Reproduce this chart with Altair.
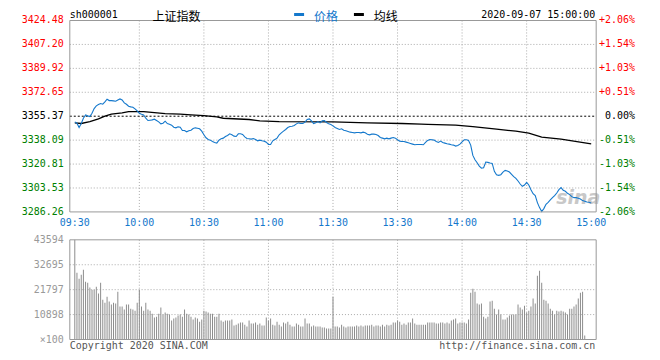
import altair as alt
import pandas as pd

# ---------------- data ----------------
prev_close = 3355.37

# minute-by-minute index price (09:30 .. 11:30, 13:00 .. 15:00), 241 points
price = [
    3351.29, 3350.33, 3347.21, 3350.09, 3353.93, 3356.33, 3355.61, 3355.13, 3357.53, 3360.89,
    3362.81, 3363.77, 3364.49, 3364.01, 3365.69, 3367.61, 3366.65, 3366.65, 3366.41, 3366.17,
    3367.13, 3367.85, 3367.13, 3364.97, 3364.01, 3362.57, 3362.09, 3361.85, 3360.65, 3359.21,
    3357.53, 3356.81, 3356.33, 3353.93, 3352.25, 3352.49, 3352.73, 3353.21, 3352.25, 3351.29,
    3349.85, 3350.33, 3351.77, 3350.09, 3349.61, 3348.89, 3347.45, 3346.97, 3347.69, 3347.45,
    3345.05, 3345.05, 3344.09, 3344.81, 3345.29, 3346.49, 3346.97, 3346.73, 3346.25, 3344.57,
    3341.93, 3339.77, 3338.57, 3338.09, 3337.13, 3336.41, 3335.93, 3338.09, 3339.05, 3339.53,
    3340.73, 3341.45, 3342.65, 3341.93, 3340.97, 3340.73, 3342.65, 3342.65, 3342.17, 3340.49,
    3339.29,
    3339.05, 3338.81, 3339.29, 3338.57, 3337.61, 3338.09, 3337.61, 3337.37, 3336.65, 3334.97,
    3334.97, 3337.61, 3338.57, 3339.53, 3341.93, 3343.37, 3344.57, 3345.77, 3347.21, 3347.93,
    3348.17, 3348.65, 3349.85, 3350.57, 3350.09, 3350.09, 3351.05, 3352.97, 3353.45, 3352.01,
    3350.09, 3350.57, 3351.53, 3350.57, 3352.01, 3352.25, 3350.81, 3349.85, 3349.37, 3348.41,
    3347.21, 3346.49, 3345.77, 3346.25, 3345.29, 3344.81, 3344.33, 3343.85, 3343.61, 3343.37,
    3343.61, 3343.61, 3343.37, 3343.85, 3343.37, 3342.41, 3341.93, 3342.41, 3342.41, 3342.17,
    3341.45, 3340.01, 3339.53, 3339.05, 3339.53, 3339.05, 3339.53, 3340.01, 3339.53, 3338.33,
    3337.37, 3337.13, 3337.13, 3336.65, 3336.17, 3335.69, 3335.21, 3334.73, 3334.97, 3334.97,
    3334.97, 3334.73, 3336.41, 3337.85, 3338.57, 3338.33, 3338.09, 3337.13, 3336.41, 3337.37,
    3336.41, 3335.93, 3335.45, 3335.21, 3334.73, 3334.49, 3333.77, 3334.25, 3335.21, 3336.89,
    3338.33, 3338.33, 3337.85, 3334.49, 3327.05, 3323.93, 3321.77, 3319.37, 3317.93, 3318.17,
    3322.25, 3322.01, 3321.53, 3321.29, 3315.53, 3313.13, 3312.65, 3313.13, 3315.05, 3316.25,
    3315.77, 3315.05, 3313.37, 3311.69, 3310.49, 3308.57, 3306.41, 3304.73, 3305.69, 3307.61,
    3305.69, 3302.33, 3299.45, 3298.01, 3292.97, 3289.37, 3286.49, 3288.65, 3291.77, 3293.21,
    3294.89, 3296.57, 3298.01, 3299.93, 3302.33, 3303.77, 3301.85, 3301.13, 3299.69, 3298.73,
    3297.29, 3296.57, 3296.57, 3296.09, 3295.61, 3294.41, 3293.93, 3293.45, 3293.21, 3292.73,
]

# average price line (均线), read at selected minutes
avg_minute = [0, 3, 7, 11, 14, 17, 22, 25, 32, 42, 49, 54, 60, 66, 69, 81, 86, 95,
              120, 136, 152, 161, 164, 177, 185, 196, 205, 211, 217, 226, 240]
avg_price = [3350.6, 3350.1, 3351.5, 3353.4, 3355.4, 3356.8, 3357.8, 3358.7, 3358.7,
             3357.3, 3356.8, 3356.3, 3355.8, 3354.9, 3353.9, 3353.0, 3352.0, 3351.5,
             3351.3, 3350.6, 3350.1, 3349.6, 3349.4, 3348.9, 3347.9, 3346.0, 3344.6,
             3343.1, 3340.3, 3338.8, 3335.4]

# minute volume (x100 shares)
volume = (
    [43594]
    + [29200, 26600, 28300, 30500, 25300, 24800, 22700, 21800, 21800, 23100, 20100, 24800,
       17400, 16100, 18700, 16600, 15300, 16100, 15700, 20900, 14400, 14400, 13100, 15300,
       15300, 13500, 13100, 12600, 16100]
    + [21800]
    + [14400, 12600, 16100, 13100, 12600, 11300, 9600, 10000, 11300, 14000, 10900, 11800,
       11300, 10900, 8300, 9200, 9600, 10500, 10900, 10000, 13100, 11300, 10900, 10000,
       8700, 9600, 9200, 7800, 8700]
    + [12600]
    + [12200, 11800, 11300, 11300, 10000, 10000, 11300, 8300, 7800, 8300, 8300, 8300, 8700,
       6100, 6500, 7000, 7400, 7400, 6500, 5700, 8300, 7000, 7000, 7400, 6500, 7000, 6100,
       6100, 9600]
    + [8300]
    + [9200, 6500, 6100, 7800, 6500, 5700, 7400, 7000, 7800, 6500, 5700, 5700, 7000, 6500,
       5700, 5700, 9200, 7000, 7000, 5700, 6100, 5700, 5700, 5700, 5200, 5200, 4800, 4800,
       4800]
    + [18700]
    + [5700, 5700, 5200, 6500, 5700, 5200, 5700, 5700, 5700, 5700, 6100, 5700, 6100, 5700,
       6100, 6100, 6100, 6500, 5700, 6100, 6100, 5700, 6500, 5700, 6500, 6100, 6500, 7400,
       7400]
    + [8300]
    + [7800, 6500, 7000, 6500, 7400, 7400, 9200, 7000, 6500, 6500, 6500, 6500, 6500, 7400,
       7400, 7400, 7400, 7000, 7000, 7400, 7400, 7000, 7400, 7000, 8300, 8700, 9200, 7000,
       7400]
    + [7400, 7400, 7000, 8700, 20500, 22200, 20900, 15700, 15300, 15700, 10000, 9200, 10000,
       16600, 17000, 13500, 10900, 13100, 10900, 8700, 8700, 9600, 10500, 10900, 10900,
       10900, 15300, 14000, 13100, 14800, 11800, 12600, 14400, 17900, 15700, 27900, 30100,
       24800, 17400, 17000, 15700, 13500, 12600, 10900, 12600, 12200, 12600, 12200, 11800,
       10900, 13500, 13500, 14400, 15300, 17900, 20500, 20900, 1700, 0, 0, 0]
)

price_ticks = [3424.48, 3407.20, 3389.92, 3372.65, 3355.37, 3338.09, 3320.81, 3303.53, 3286.26]
price_labels = ["3424.48", "3407.20", "3389.92", "3372.65", "3355.37",
                "3338.09", "3320.81", "3303.53", "3286.26"]
pct_labels = ["+2.06%", "+1.54%", "+1.03%", "+0.51%", "0.00%",
              "-0.51%", "-1.03%", "-1.54%", "-2.06%"]

time_ticks = [0, 30, 60, 90, 120, 150, 180, 210, 240]
time_labels = ["09:30", "10:00", "10:30", "11:00", "11:30", "13:30", "14:00", "14:30", "15:00"]

vol_ticks = [43594, 32695, 21797, 10898, 0]
vol_labels = ["43594", "32695", "21797", "10898", "\u00d7100"]

# ---------------- layout / style ----------------
W, H = 528, 320
PRICE_H = 192
VOL_TOP = 220
MONO = "DejaVu Sans Mono"
CJK = "Noto Sans CJK SC"
BLUE = "#1478cc"
GRID = "#aaaaaa"
FRAME = "#999999"
TITLE_Y = -6
CJK_Y = -3.5

x_scale = alt.Scale(domain=[0, 240], nice=False, zero=False)
p_scale = alt.Scale(domain=[price_ticks[-1], price_ticks[0]], range=[PRICE_H, 0], nice=False, zero=False)
v_scale = alt.Scale(domain=[0, vol_ticks[0]], range=[H, VOL_TOP], nice=False, zero=False)

X = alt.X("t:Q", scale=x_scale, axis=None)
YP = alt.Y("p:Q", scale=p_scale, axis=None)
YV = alt.Y("v:Q", scale=v_scale, axis=None)

df_price = pd.DataFrame({"t": list(range(len(price))), "p": price})
df_avg = pd.DataFrame({"t": avg_minute, "p": avg_price})
df_vol = pd.DataFrame({"t": list(range(len(volume))), "v": volume})


def kind(v):
    if abs(v - prev_close) < 1e-6:
        return "flat"
    return "up" if v > prev_close else "down"


df_pt = pd.DataFrame({"p": price_ticks, "label": price_labels, "pct": pct_labels,
                      "kind": [kind(v) for v in price_ticks]})
df_grid_p = df_pt[(df_pt.p != prev_close) & (df_pt.p != price_ticks[0]) & (df_pt.p != price_ticks[-1])]
df_time = pd.DataFrame({"t": time_ticks, "label": time_labels})
df_vgrid = df_time[(df_time.t > 0) & (df_time.t < 240)]
df_vt = pd.DataFrame({"v": vol_ticks, "label": vol_labels})
df_vgrid_h = df_vt[(df_vt.v > 0) & (df_vt.v < vol_ticks[0])]
one = pd.DataFrame({"a": [0]})

color_scale = alt.Scale(domain=["up", "flat", "down"], range=["#ff0000", "#000000", "#008000"])

layers = []

# price panel grid
layers.append(alt.Chart(df_grid_p).mark_rule(color=GRID, strokeDash=[1, 2], strokeWidth=1).encode(
    y=YP, x=alt.value(0), x2=alt.value(W)))
layers.append(alt.Chart(df_vgrid).mark_rule(color=GRID, strokeDash=[1, 2], strokeWidth=1).encode(
    x=X, y=alt.value(0), y2=alt.value(PRICE_H)))
# volume panel grid
layers.append(alt.Chart(df_vgrid_h).mark_rule(color=GRID, strokeDash=[1, 2], strokeWidth=1).encode(
    y=YV, x=alt.value(0), x2=alt.value(W)))
layers.append(alt.Chart(df_vgrid).mark_rule(color=GRID, strokeDash=[1, 2], strokeWidth=1).encode(
    x=X, y=alt.value(VOL_TOP), y2=alt.value(H)))

# previous close dashed line
layers.append(alt.Chart(pd.DataFrame({"p": [prev_close]})).mark_rule(
    color="#000000", strokeDash=[2, 2], strokeWidth=1).encode(y=YP, x=alt.value(0), x2=alt.value(W)))

# watermark
layers.append(alt.Chart(one).mark_text(text="sina", font="DejaVu Sans", fontSize=19, fontWeight="bold",
                                       fontStyle="italic", color="#c8c8c8", align="center",
                                       baseline="alphabetic").encode(x=alt.value(510), y=alt.value(184)))

# volume bars
layers.append(alt.Chart(df_vol).mark_bar(width=1, color="#8c8c8c").encode(x=X, y=YV))

# lines
layers.append(alt.Chart(df_avg).mark_line(color="#000000", strokeWidth=1.3).encode(x=X, y=YP))
layers.append(alt.Chart(df_price).mark_line(color=BLUE, strokeWidth=1.1).encode(x=X, y=YP))

# frames
layers.append(alt.Chart(one).mark_rect(fillOpacity=0, stroke=FRAME, strokeWidth=1).encode(
    x=alt.value(0), x2=alt.value(W), y=alt.value(0), y2=alt.value(PRICE_H)))
layers.append(alt.Chart(one).mark_rect(fillOpacity=0, stroke=FRAME, strokeWidth=1).encode(
    x=alt.value(0), x2=alt.value(W), y=alt.value(VOL_TOP), y2=alt.value(H)))

# axis labels
layers.append(alt.Chart(df_pt).mark_text(align="right", baseline="middle", font=MONO, fontSize=10).encode(
    x=alt.value(-6), y=YP, text="label:N", color=alt.Color("kind:N", scale=color_scale, legend=None)))
layers.append(alt.Chart(df_pt).mark_text(align="right", baseline="middle", font=MONO, fontSize=10).encode(
    x=alt.value(567), y=YP, text="pct:N", color=alt.Color("kind:N", scale=color_scale, legend=None)))
layers.append(alt.Chart(df_time).mark_text(align="center", baseline="middle", font=MONO, fontSize=10,
                                           color=BLUE).encode(x=X, y=alt.value(203), text="label:N"))
layers.append(alt.Chart(df_vt).mark_text(align="right", baseline="middle", font=MONO, fontSize=10,
                                         color="#999999").encode(x=alt.value(-6), y=YV, text="label:N"))


def txt(s, x, y, align="left", color="#000000", font=MONO, size=10):
    return alt.Chart(one).mark_text(text=s, align=align, baseline="middle", font=font, fontSize=size,
                                    color=color).encode(x=alt.value(x), y=alt.value(y))


def dash(x1, x2, y, color):
    return alt.Chart(one).mark_rule(color=color, strokeWidth=3).encode(
        x=alt.value(x1), x2=alt.value(x2), y=alt.value(y))


layers += [
    txt("sh000001", 0, TITLE_Y),
    txt("上证指数", 107, CJK_Y, align="center", font=CJK, size=12),
    dash(225, 235, TITLE_Y, BLUE),
    txt("价格", 245, CJK_Y, color=BLUE, font=CJK, size=12),
    dash(285, 295, TITLE_Y, "#000000"),
    txt("均线", 305, CJK_Y, font=CJK, size=12),
    txt("2020-09-07 15:00:00", 527, TITLE_Y, align="right"),
    txt("Copyright 2020 SINA.COM", 0, 327, color="#555555"),
    txt("http://finance.sina.com.cn", 527, 327, align="right", color="#555555"),
]

chart = alt.layer(*layers).resolve_scale(y="independent").properties(
    width=W, height=H,
    autosize=alt.AutoSizeParams(type="none"),
    padding={"left": 62, "top": 12, "right": 56, "bottom": 16},
    background="#ffffff",
).configure_view(stroke=None)

chart.save("out.html", embed_options={"renderer": "svg", "actions": False})
